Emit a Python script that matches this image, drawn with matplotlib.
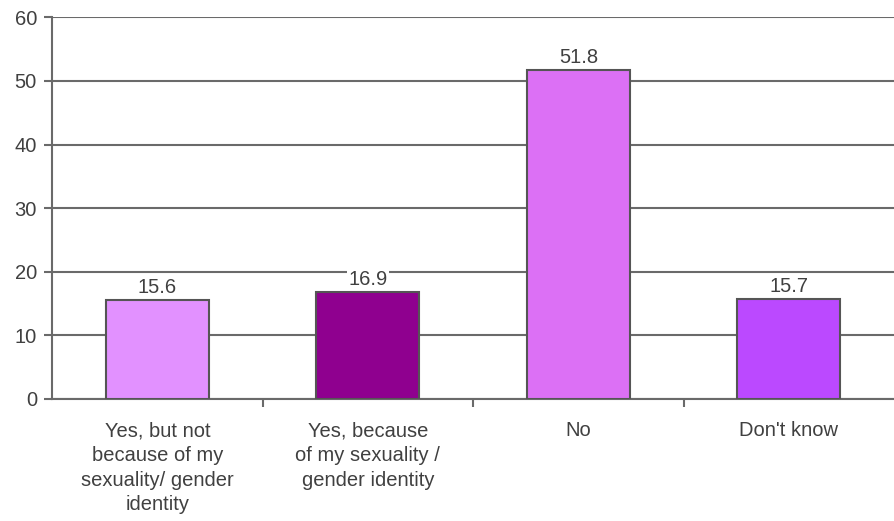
import matplotlib.pyplot as plt
import numpy as np

plt.rcParams['font.family'] = ['Liberation Sans', 'DejaVu Sans']

categories = ['Yes, but not\nbecause of my\nsexuality/ gender\nidentity',
              'Yes, because\nof my sexuality /\ngender identity',
              'No',
              "Don't know"]
values = [15.6, 16.9, 51.8, 15.7]
bar_colors = ['#E291FF', '#8F008F', '#DC70F5', '#BB49FF']
yticks = [0, 10, 20, 30, 40, 50, 60]

line_col = '#6a6a6a'
text_col = '#404040'

fig = plt.figure(figsize=(8.94, 5.21), dpi=100)
ax = fig.add_axes([0.0584, 0.2342, 0.9416, 0.7324])

x = np.arange(len(categories))
bars = ax.bar(x, values, width=0.49, color=bar_colors, edgecolor='#555555',
              linewidth=1.5, zorder=3)

# value labels above bars
for b, v in zip(bars, values):
    ax.annotate(f'{v:.1f}', (b.get_x() + b.get_width() / 2, v),
                xytext=(0, 2), textcoords='offset points',
                ha='center', va='bottom', fontsize=14.5, color=text_col,
                bbox=dict(boxstyle='square,pad=0.05', fc='white', ec='none'),
                zorder=4)

ax.set_xlim(-0.5, 3.5)
ax.set_ylim(0, 60)
ax.set_yticks(yticks)
ax.yaxis.grid(True, color=line_col, linewidth=1.5, zorder=0)
ax.set_axisbelow(True)

ax.set_xticks(x)
ax.set_xticklabels(categories, linespacing=1.38)
ax.set_xticks([0.5, 1.5, 2.5], minor=True)
ax.tick_params(axis='x', which='major', length=0, pad=16, labelsize=14.5,
               labelcolor=text_col)
ax.tick_params(axis='x', which='minor', length=6, width=1.5, color=line_col)
ax.tick_params(axis='y', length=6, width=1.5, color=line_col, pad=5,
               labelsize=14.5, labelcolor=text_col)

for s in ['top', 'right']:
    ax.spines[s].set_visible(False)
for s in ['left', 'bottom']:
    ax.spines[s].set_color(line_col)
    ax.spines[s].set_linewidth(1.5)

plt.savefig('out.png', dpi=100)
